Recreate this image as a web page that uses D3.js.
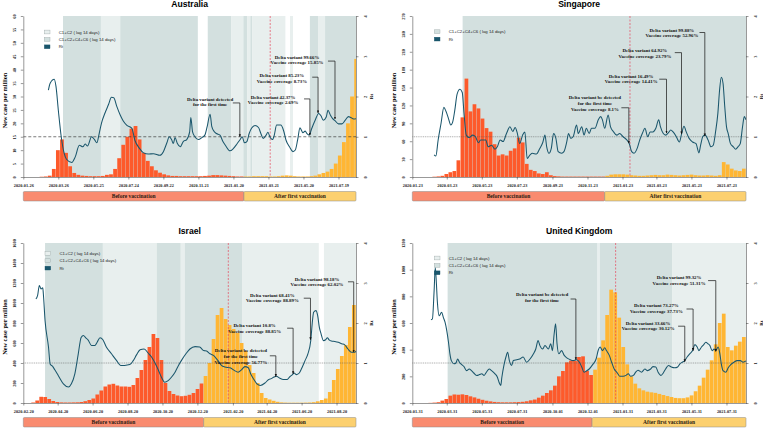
<!DOCTYPE html>
<html lang="en">
<head>
<meta charset="UTF-8">
<title>New cases and Rt</title>
<script src="https://cdn.jsdelivr.net/npm/d3@7/dist/d3.min.js"></script>
<style>
    body { margin: 0; background: #fff; }
    .serif { font-family: "Liberation Serif", "Times New Roman", serif; font-weight: bold; }
    .sans { font-family: "Liberation Sans", Arial, sans-serif; }
</style>
</head>
<body>
<svg id="chart" width="763" height="428" viewBox="0 0 763 428"></svg>
<script>
    // ---------- data (x values are days since each panel's start date) ----------
    // Australia
    let auStart = '2020-01-26';
    let auTicks = ['2020-01-26','2020-03-26','2020-05-25','2020-07-24','2020-09-22','2020-11-21','2021-01-20','2021-03-21','2021-05-20','2021-07-19'];
    let auYTicks = [0,5,10,15,20,25,30,35,40,45,50,55,60];
    // weekly new cases per million
    let auCases = [0,0,0,0,0.1,0.2,0.5,3,10,14, 9,4,1.5,0.8,0.5,0.4,0.3,0.3,0.3,0.4,
        0.8,1,3,7,12,15,18,19,14,9, 6,4,2.5,1.6,1,0.6,0.4,0.4,0.3,0.3,
        0.3,0.3,0.3,0.3,0.4,0.5,0.7,0.7,0.6,0.5, 0.4,0.3,0.2,0.2,0.2,0.2,0.3,0.3,0.3,0.3,
        0.2,0.2,0.3,0.5,0.6,0.5,0.3,0.2,0.2,0.2, 0.3,0.5,1,1.5,2,3,5,8,13,20, 30,44];
    let auRt = [[43,2.16],[46,2.33],[53,2.43],[56,2.25],[60,1.66],[65,1.0],[70,0.59],[74,0.44],[83,0.36],[89,0.5],
        [96,0.79],[102,0.75],[106,0.82],[110,0.77],[117,1.0],[122,0.93],[126,0.85],[130,1.08],[134,1.34],[140,1.59],
        [146,1.8],[151,1.98],[155,1.97],[160,1.76],[166,1.54],[171,1.4],[177,1.29],[186,1.21],[191,0.92],[199,0.71],
        [206,0.6],[214,0.57],[223,0.58],[234,0.54],[240,0.63],[246,0.85],[250,1.0],[254,0.93],[257,0.83],[260,0.98],
        [264,0.83],[269,0.75],[274,0.88],[280,0.93],[285,1.12],[287,1.48],[290,1.12],[294,1.0],[300,0.93],[306,0.98],
        [311,1.04],[315,1.25],[320,1.56],[323,1.25],[327,1.13],[331,1.08],[337,1.04],[342,0.88],[347,0.77],[354,0.65],
        [360,0.71],[366,0.82],[371,0.92],[375,1.0],[379,0.85],[383,0.88],[387,1.08],[391,1.21],[397,1.28],[403,1.23],
        [407,1.08],[411,0.96],[416,1.04],[419,1.11],[423,0.98],[427,0.93],[430,1.04],[434,1.29],[441,1.29],[446,1.15],
        [450,0.92],[456,0.75],[462,0.63],[466,0.67],[470,0.92],[474,1.22],[479,1.1],[483,1.14],[486,1.08],[490,1.04],
        [494,1.2],[500,1.41],[506,1.58],[510,1.52],[514,1.41],[519,1.49],[522,1.66],[526,1.54],[530,1.45],[534,1.4],
        [540,1.32],[546,1.32],[551,1.4],[557,1.5],[561,1.48],[566,1.44],[570,1.45]];
    // [from, to, level]  level 1 = C1+C2, level 2 = C1+C2+C4+C6
    let auShade = [[68,133,2],[133,166,1],[166,299,2],[316,356,2],[356,377,1],[377,384,2],[384,389,1],[389,392,2],
        [392,449,1],[457,462,1],[491,505,2],[505,517,1],[517,570,2]];
    let auVacDay = 378, auRedDay = 423;
    let auNotes = [
        {lines:['Delta variant detected','for the first time'], tx:320, ty:1.94, x0:359, x1:371, y0:1.84, y1:1.0},
        {lines:['Delta variant  42.37%','Vaccine coverage 2.69%'], tx:428, ty:1.99, x0:481, x1:491, y0:1.94, y1:1.04},
        {lines:['Delta variant  85.23%','Vaccine coverage 8.73%'], tx:443, ty:2.53, x0:495, x1:505, y0:2.48, y1:1.59},
        {lines:['Delta variant  99.66%','Vaccine coverage 15.85%'], tx:469, ty:2.98, x0:522, x1:534, y0:2.88, y1:1.44}
    ];

    // Singapore
    let sgStart = '2020-01-23';
    let sgTicks = ['2020-01-23','2020-03-23','2020-05-23','2020-07-23','2020-09-23','2020-11-23','2021-01-23','2021-03-23','2021-05-23','2021-07-23'];
    let sgYTicks = [0,30,60,90,120,150,180,210,240,270];
    let sgCases = [0,0,0,0,0,0.5,1,2,5,8, 10,28,100,165,110,122,115,98,82,76,
        55,36,38,36,44,48,66,58,22,12, 10,6,5,8,3,1.5,1,0.7,0.7,0.7,
        0.7,0.7,0.7,0.7,0.7,0.7,0.7,0.7,2,4, 4.5,4.5,4.5,4,3,2.5,2,2,2.5,3,
        3.5,3,3,4,3.5,3,2.5,3,3.5,4, 3,2.5,2.5,3,2.5,2,3,25,21,14, 11,10,14];
    let sgRt = [[38,0.55],[41,0.52],[45,0.92],[50,1.33],[55,1.73],[59,1.62],[63,1.45],[67,1.29],[70,1.35],[74,1.66],
        [78,2.06],[83,2.18],[87,2.1],[90,1.59],[94,1.04],[99,0.98],[105,1.04],[110,1.0],[115,0.85],[119,0.92],
        [123,0.92],[128,0.92],[132,0.75],[138,0.79],[144,0.69],[148,0.75],[153,0.92],[158,0.88],[164,1.08],[170,1.25],
        [175,1.13],[179,1.23],[183,1.08],[187,0.83],[192,1.04],[196,1.12],[200,0.46],[205,0.55],[209,0.59],[216,0.57],
        [222,0.71],[227,0.85],[231,1.04],[234,0.75],[238,0.59],[242,0.71],[246,1.08],[250,0.96],[254,0.63],[260,0.59],
        [264,0.63],[269,0.88],[272,1.08],[276,0.96],[280,1.0],[286,1.29],[289,1.08],[295,1.25],[299,1.04],[303,1.21],
        [308,1.08],[312,1.21],[318,1.21],[324,1.43],[328,1.5],[331,1.42],[335,1.21],[341,1.54],[345,1.25],[350,1.13],
        [356,1.04],[361,1.08],[367,1.0],[373,0.93],[378,0.82],[382,0.63],[386,0.59],[392,0.73],[396,0.92],[401,1.1],
        [405,1.21],[410,1.0],[414,1.12],[419,1.12],[424,1.21],[429,1.42],[432,1.25],[437,1.08],[441,1.04],[446,1.1],
        [450,1.17],[454,1.12],[459,1.02],[465,0.87],[469,1.08],[473,1.26],[477,1.12],[482,0.96],[488,0.87],[494,0.83],
        [499,0.6],[502,0.79],[506,1.01],[510,1.04],[515,0.92],[520,0.75],[524,0.79],[528,1.12],[532,1.58],[535,2.16],
        [538,2.48],[541,2.33],[544,1.75],[547,1.25],[550,1.08],[554,0.83],[559,0.75],[563,0.69],[567,0.75],[571,0.83],
        [575,1.25],[578,1.5],[581,1.42]];
    let sgShade = [[87.6,581,2]];
    let sgVacDay = 335, sgRedDay = 379;
    let sgNotes = [
        {lines:['Delta variant be detected','for the first time','Vaccine coverage 8.1%'], tx:318, ty:1.97, x0:364, x1:377, y0:1.72, y1:0.84},
        {lines:['Delta variant 16.49%','Vaccine coverage 14.41%'], tx:381, ty:2.51, x0:430, x1:442.6, y0:2.43, y1:1.09},
        {lines:['Delta variant 64.92%','Vaccine coverage 23.79%'], tx:405, ty:3.14, x0:457, x1:468.7, y0:3.09, y1:1.07},
        {lines:['Delta variant 99.88%','Vaccine coverage 52.96%'], tx:452, ty:3.65, x0:500, x1:509.3, y0:3.59, y1:1.02}
    ];

    // Israel
    let ilStart = '2020-02-20';
    let ilTicks = ['2020-02-20','2020-04-20','2020-06-20','2020-08-20','2020-10-20','2020-12-20','2021-02-20','2021-04-20','2021-06-20','2021-08-20'];
    let ilYTicks = [0,200,400,600,800,1000,1200,1400,1600];
    let ilCases = [0,0,5,25,62,60,40,20,10,6, 5,5,6,7,10,18,30,45,85,125,
        165,185,192,175,165,165,162,180,250,330, 430,560,690,650,430,200,120,90,75,68,
        72,82,100,140,195,270,400,640,880,950, 840,780,740,700,600,520,380,300,200,100,
        50,35,22,12,6,4,3,3,3,3, 4,5,8,17,30,45,110,230,340,470, 580,760,980];
    let ilRt = [[22,2.6],[25,2.69],[28,2.94],[31,2.85],[34,2.88],[35,2.73],[38,2.06],[44,1.4],[47,0.97],[51,0.92],
        [55,0.83],[61,0.69],[70,0.48],[79,0.4],[84,0.48],[90,0.73],[96,1.23],[101,1.64],[105,1.69],[109,1.63],
        [113,1.58],[119,1.44],[125,1.44],[129,1.52],[134,1.63],[139,1.58],[145,1.4],[154,1.23],[163,1.06],[170,0.94],
        [177,0.94],[186,0.96],[192,1.06],[198,1.21],[204,1.33],[211,1.35],[218,1.25],[224,1.15],[230,1.0],[236,0.82],
        [241,0.65],[247,0.52],[253,0.56],[259,0.65],[265,0.77],[271,0.94],[276,1.06],[284,1.23],[291,1.35],[300,1.41],
        [308,1.4],[315,1.31],[320,1.3],[326,1.23],[332,1.19],[336,1.13],[340,1.06],[346,0.94],[352,0.9],[361,0.88],
        [369,0.81],[375,0.77],[381,0.83],[387,0.91],[393,0.88],[397,0.73],[403,0.58],[408,0.48],[414,0.44],[422,0.5],
        [428,0.58],[433,0.61],[438,0.65],[442,0.67],[448,0.62],[454,0.59],[461,0.59],[465,0.65],[470,0.71],[473,0.75],
        [477,0.71],[482,0.75],[486,0.86],[492,1.06],[497,1.23],[502,1.56],[505,2.06],[507,2.27],[511,2.31],[514,2.19],
        [517,1.89],[520,1.73],[524,1.56],[528,1.58],[531,1.63],[534,1.58],[538,1.55],[544,1.54],[550,1.52],[556,1.48],
        [561,1.46],[567,1.35],[573,1.27],[579,1.27],[581,1.3]];
    let ilShade = [[38,139,2],[139,233,1],[233,275,2],[275,282,1],[282,382,2],[382,516,1],[525,581,1]];
    let ilVacDay = 315, ilRedDay = 358;
    let ilNotes = [
        {lines:['Delta variant be detected','for the first time','Vaccine coverage 56.77%'], tx:380, ty:1.31, x0:430.5, x1:441, y0:1.18, y1:0.66},
        {lines:['Delta variant 10.8%','Vaccine coverage 88.85%'], tx:404, ty:1.93, x0:460.7, x1:471.2, y0:1.87, y1:0.73},
        {lines:['Delta variant 68.41%','Vaccine coverage 88.89%'], tx:435, ty:2.7, x0:489.8, x1:501.5, y0:2.62, y1:1.58},
        {lines:['Delta variant 98.18%','Vaccine coverage 62.02%'], tx:513, ty:3.1, x0:567, x1:577, y0:3.03, y1:1.27}
    ];

    // United Kingdom
    let ukStart = '2020-01-31';
    let ukTicks = ['2020-01-31','2020-03-31','2020-05-31','2020-07-31','2020-10-01','2020-12-01','2021-01-31','2021-03-31','2021-05-31','2021-07-31'];
    let ukYTicks = [0,200,400,600,800,1000,1200];
    let ukCases = [0,0,0,0,1,3,6,18,30,55, 64,62,65,60,50,42,32,24,17,12,
        8,6,5,5,5,6,7,9,13,20, 26,40,55,75,95,130,200,240,305,318,
        315,345,350,240,210,250,340,470,660,850, 830,640,420,290,200,145,110,95,85,80,
        76,68,60,52,45,38,36,36,42,57, 88,130,190,250,320,440,600,670,420,395, 430,460,495];
    let ukRt = [[32.5,2.08],[35,2.1],[38,2.81],[40,3.39],[42,2.98],[43.5,2.56],[47,2.18],[51,2.27],[54,2.14],[57,2.02],
        [60,1.81],[63,1.52],[65.5,1.23],[68,1.06],[72.5,0.98],[76,1.0],[79,1.1],[82,1.02],[86,0.96],[90,0.91],
        [94.5,0.81],[99,0.85],[103,0.81],[107,0.75],[112,0.69],[117,0.71],[121,0.73],[125,0.69],[129,0.77],[134,0.85],
        [138,0.81],[144,0.73],[148,0.65],[151,0.52],[154,0.44],[156,0.65],[159.5,0.94],[163,1.15],[166,1.27],[169,1.06],
        [173,0.94],[176,1.06],[182,1.08],[187,1.1],[193,1.15],[199,1.02],[205,1.1],[211,1.23],[215,1.35],[219,1.56],
        [222,1.44],[227,1.35],[231,1.44],[237,1.35],[241,1.48],[244,1.31],[247,1.73],[249.5,1.98],[252,1.48],[255,1.23],
        [260,1.31],[264.5,1.19],[269,1.13],[274,1.09],[280,1.06],[286,1.08],[291,1.02],[295,0.9],[299,0.77],[303,0.8],
        [308,0.85],[314,0.96],[320,1.1],[324,1.33],[327,1.4],[331,1.31],[335,1.38],[338,1.31],[343,1.19],[347,1.02],
        [351.5,0.85],[357,0.75],[361,0.67],[367,0.67],[372,0.69],[376,0.73],[380,0.67],[385,0.69],[389,0.77],[393,0.82],
        [399,0.77],[405,0.85],[409.5,0.81],[415,0.85],[419,0.91],[424,0.9],[428,0.77],[433,0.69],[437,0.75],[441,0.85],
        [446,0.94],[451,0.9],[457,0.88],[462,0.9],[466,0.98],[470,1.02],[474.5,1.06],[478.5,1.15],[483,1.23],[488,1.31],
        [492,1.46],[496,1.4],[499,1.31],[503.5,1.4],[507.5,1.46],[511,1.52],[515,1.48],[518,1.44],[522,1.31],[525.5,1.35],
        [528.5,1.31],[532.5,1.4],[535.5,1.23],[538,0.98],[541,0.81],[546,0.77],[550,0.88],[554.5,0.96],[560,1.02],[565.5,1.06],
        [571,1.06],[576,1.02],[581,1.05]];
    let ukShade = [[61.5,322.5,2],[322.5,326.6,1],[326.6,453,2],[453,581,1]];
    let ukVacDay = 313, ukRedDay = 354;
    let ukNotes = [
        {lines:['Delta variant be detected','for the first time'], tx:226, ty:2.72, x0:275.6, x1:284.8, y0:2.6, y1:1.08},
        {lines:['Delta variant 33.66%','Vaccine coverage 30.12%'], tx:410.6, ty:2.0, x0:462.8, x1:474.4, y0:1.92, y1:1.03},
        {lines:['Delta variant 73.27%','Vaccine coverage 37.73%'], tx:425, ty:2.43, x0:477.4, x1:488.9, y0:2.35, y1:1.31},
        {lines:['Delta variant 99.32%','Vaccine coverage 51.31%'], tx:464.5, ty:3.13, x0:515, x1:528.4, y0:3.06, y1:1.29}
    ];

    let rtTicks = [0,1,2,3,4];
    let legendAll = ['C1+C2 ( lag 14 days)', 'C1+C2+C4+C6 ( lag 14 days)', 'Rt'];

    // ---------- styles ----------
    let col = {light:'#e8efee', dark:'#d3e0df', before:'#fd5a2b', after:'#ffb634', rt:'#1a566c',
        phaseBefore:'#f98b6f', phaseAfter:'#fcd06f', red:'#e5475b'};

    let svg = d3.select('svg#chart');
    let defs = svg.append('defs');
    defs.append('marker').attr('id', 'arrow')
        .attr('viewBox', '0 0 10 10').attr('refX', 9).attr('refY', 5)
        .attr('markerWidth', 4).attr('markerHeight', 4).attr('orient', 'auto')
        .append('path').attr('d', 'M0,1 L10,5 L0,9 z').attr('fill', '#111');

    let panels = [
        {id:'au', title:'Australia', start:auStart, days:570, yMax:60, yTicks:auYTicks, ticks:auTicks, cases:auCases, rt:auRt,
         shade:auShade, notes:auNotes, vac:auVacDay, red:auRedDay, x0:23.3, x1:356, y0:16, y1:177,
         legend:legendAll, lx:21, ly:16, ref:{dash:'3,2', color:'#222', w:0.6}},
        {id:'sg', title:'Singapore', start:sgStart, days:581, yMax:270, yTicks:sgYTicks, ticks:sgTicks, cases:sgCases, rt:sgRt,
         shade:sgShade, notes:sgNotes, vac:sgVacDay, red:sgRedDay, x0:412.3, x1:746, y0:16, y1:177,
         legend:legendAll.slice(1), lx:22, ly:15.7, ref:{dash:'1,0.8', color:'#555', w:0.5}},
        {id:'il', title:'Israel', start:ilStart, days:581, yMax:1600, yTicks:ilYTicks, ticks:ilTicks, cases:ilCases, rt:ilRt,
         shade:ilShade, notes:ilNotes, vac:ilVacDay, red:ilRedDay, x0:23.3, x1:356, y0:243, y1:403,
         legend:legendAll, lx:21.7, ly:10.3, ref:{dash:'1,0.8', color:'#555', w:0.5}},
        {id:'uk', title:'United Kingdom', start:ukStart, days:581, yMax:1200, yTicks:ukYTicks, ticks:ukTicks, cases:ukCases, rt:ukRt,
         shade:ukShade, notes:ukNotes, vac:ukVacDay, red:ukRedDay, x0:412.3, x1:746, y0:243, y1:403,
         legend:legendAll, lx:22, ly:15, ref:{dash:'1,0.8', color:'#555', w:0.5}}
    ];

    panels.forEach(drawPanel);

    function drawPanel(p) {
        let g = svg.append('g');
        let start = d3.utcParse('%Y-%m-%d')(p.start);
        let day = d => new Date(+start + d * 864e5);
        let x = d3.scaleUtc().domain([start, day(p.days)]).range([p.x0, p.x1]);
        let y = d3.scaleLinear().domain([0, p.yMax]).range([p.y1, p.y0]);
        let r = d3.scaleLinear().domain([0, 4]).range([p.y1, p.y0]);

        defs.append('clipPath').attr('id', 'clip-' + p.id).append('rect')
            .attr('x', p.x0).attr('y', p.y0).attr('width', p.x1 - p.x0).attr('height', p.y1 - p.y0);
        let plot = g.append('g').attr('clip-path', 'url(#clip-' + p.id + ')');

        // restriction shading
        plot.selectAll('rect.shade').data(p.shade).join('rect')
            .attr('class', 'shade')
            .attr('x', d => x(day(d[0])))
            .attr('width', d => x(day(d[1])) - x(day(d[0])))
            .attr('y', p.y0).attr('height', p.y1 - p.y0)
            .attr('fill', d => d[2] === 2 ? col.dark : col.light);

        // case bars (weekly)
        plot.selectAll('rect.bar').data(p.cases).join('rect')
            .attr('class', 'bar')
            .attr('x', (d, i) => x(day(i * 7)))
            .attr('width', (d, i) => Math.max(0.3, x(day(i * 7 + 7)) - x(day(i * 7)) - 0.3))
            .attr('y', d => y(d))
            .attr('height', d => p.y1 - y(d))
            .attr('fill', (d, i) => i * 7 < p.vac ? col.before : col.after);

        // red dashed line
        plot.append('line')
            .attr('x1', x(day(p.red))).attr('x2', x(day(p.red)))
            .attr('y1', p.y0).attr('y2', p.y1)
            .attr('stroke', col.red).attr('stroke-width', 0.7).attr('stroke-dasharray', '2,1.5');

        // Rt = 1
        plot.append('line')
            .attr('x1', p.x0).attr('x2', p.x1).attr('y1', r(1)).attr('y2', r(1))
            .attr('stroke', p.ref.color).attr('stroke-width', p.ref.w).attr('stroke-dasharray', p.ref.dash);

        // Rt line
        let line = d3.line().x(d => x(day(d[0]))).y(d => r(d[1])).curve(d3.curveMonotoneX);
        plot.append('path').datum(p.rt)
            .attr('d', line).attr('fill', 'none')
            .attr('stroke', col.rt).attr('stroke-width', 1.05);

        // annotations
        p.notes.forEach(n => {
            let t = g.append('text').attr('class', 'serif')
                .attr('font-size', 4.9).attr('text-anchor', 'middle').attr('fill', '#111');
            n.lines.forEach((s, i) => {
                t.append('tspan').attr('x', x(day(n.tx)))
                    .attr('y', r(n.ty) + 1.6 + i * 5.8).text(s);
            });
            g.append('path')
                .attr('d', 'M' + x(day(n.x0)) + ',' + r(n.y0) + 'H' + x(day(n.x1)) + 'V' + r(n.y1))
                .attr('fill', 'none').attr('stroke', '#111').attr('stroke-width', 0.7)
                .attr('marker-end', 'url(#arrow)');
        });

        // legend
        let lg = g.append('g').attr('transform', 'translate(' + (p.x0 + p.lx) + ',' + (p.y0 + p.ly) + ')');
        p.legend.forEach((s, i) => {
            let fill = s === 'Rt' ? col.rt : (s.indexOf('C4') > 0 ? col.dark : col.light);
            lg.append('rect').attr('x', 0).attr('y', i * 7.4 - 1.9).attr('width', 5.7).attr('height', 3.8)
                .attr('fill', fill).attr('stroke', s === 'Rt' ? col.rt : '#9aa6a5').attr('stroke-width', 0.4);
            lg.append('text').attr('class', 'sans').attr('x', 14.4).attr('y', i * 7.4 + 1.5)
                .attr('font-size', 4.3).attr('fill', '#222').text(s);
        });

        // axes
        let fmt = d3.utcFormat('%Y-%m-%d');
        let xa = g.append('g').attr('transform', 'translate(0,' + p.y1 + ')')
            .call(d3.axisBottom(x).tickValues(p.ticks.map(d => d3.utcParse('%Y-%m-%d')(d)))
                .tickFormat(fmt).tickSize(2.5).tickSizeOuter(0).tickPadding(4.2));
        let ya = g.append('g').attr('transform', 'translate(' + p.x0 + ',0)')
            .call(d3.axisLeft(y).tickValues(p.yTicks).tickFormat(d3.format('d')).tickSize(2.5).tickSizeOuter(0));
        ya.selectAll('text').attr('x', null).attr('dy', null).attr('text-anchor', 'middle')
            .attr('transform', 'translate(-7.2,0) rotate(-90)');
        let ra = g.append('g').attr('transform', 'translate(' + p.x1 + ',0)')
            .call(d3.axisRight(r).tickValues(rtTicks).tickFormat(d3.format('d')).tickSize(2.5).tickSizeOuter(0));
        ra.selectAll('text').attr('x', null).attr('dy', null).attr('text-anchor', 'middle')
            .attr('transform', 'translate(11,0) rotate(-90)');
        [xa, ya, ra].forEach(a => {
            a.attr('font-size', 4.3).attr('font-family', '"Liberation Serif", serif').attr('font-weight', 'bold');
            a.selectAll('path, line').attr('stroke', '#333').attr('stroke-width', 0.5);
            a.selectAll('text').attr('fill', '#222');
        });

        // axis titles
        g.append('text').attr('class', 'serif').attr('font-size', 6.3).attr('text-anchor', 'middle')
            .attr('transform', 'translate(' + (p.x0 - 16.8) + ',' + ((p.y0 + p.y1) / 2 + 4) + ') rotate(-90)')
            .text('New case per million');
        g.append('text').attr('class', 'serif').attr('font-size', 5).attr('text-anchor', 'middle')
            .attr('transform', 'translate(' + (p.x1 + 16.5) + ',' + (p.y0 + p.y1) / 2 + ') rotate(-90)')
            .text('Rt');

        // title
        g.append('text').attr('class', 'sans').attr('font-weight', 'bold').attr('font-size', 8.6)
            .attr('text-anchor', 'middle').attr('x', (p.x0 + p.x1) / 2).attr('y', p.y0 - 8.6)
            .text(p.title);

        // vaccination phase bars
        let phases = [
            {label:'Before vaccination', a:0, b:p.vac, fill:col.phaseBefore},
            {label:'After first vaccination', a:p.vac, b:p.days, fill:col.phaseAfter}
        ];
        phases.forEach(ph => {
            let xa0 = x(day(ph.a)), xb = x(day(ph.b));
            g.append('rect').attr('x', xa0).attr('y', p.y1 + 14.5).attr('width', xb - xa0).attr('height', 9.5)
                .attr('rx', 1).attr('fill', ph.fill).attr('stroke', '#8a8a8a').attr('stroke-width', 0.5);
            g.append('text').attr('class', 'serif').attr('font-size', 5.5).attr('text-anchor', 'middle')
                .attr('x', (xa0 + xb) / 2).attr('y', p.y1 + 21.2).attr('fill', '#2a1a10').text(ph.label);
        });
    }
</script>
</body>
</html>
